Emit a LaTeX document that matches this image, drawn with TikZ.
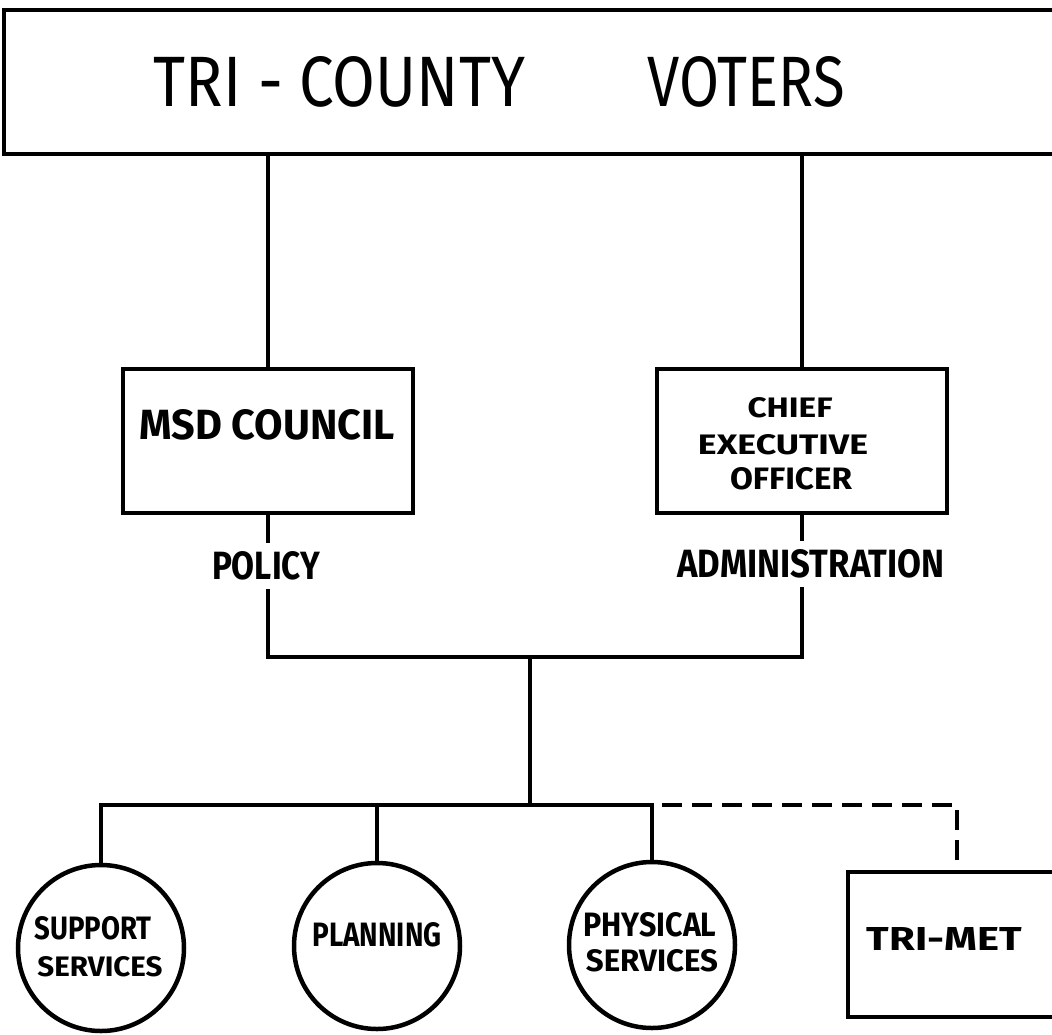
\documentclass[tikz,border=0pt]{standalone}
\usepackage{fontspec}
\setmainfont{Fira Sans}
\usepackage{graphicx}
\newcommand{\fitbox}[3]{\resizebox{#1pt}{#2pt}{#3}}
\begin{document}
\begin{tikzpicture}[x=1pt,y=-1pt,
  box/.style={draw,line width=4pt,rectangle,inner sep=0pt},
  unit/.style={draw,line width=4.5pt,circle,inner sep=0pt,minimum size=166pt},
  lbl/.style={inner sep=0pt,font=\bfseries},
  toplbl/.style={inner sep=0pt},
  gaplbl/.style={inner sep=0pt,font=\bfseries,outer ysep=9pt},
  wire/.style={line width=4.5pt},
  dashwire/.style={line width=4.5pt,dash pattern=on 20pt off 10pt,dash phase=20pt}]
\useasboundingbox (0,0) rectangle (1052,1034);
\clip (0,0) rectangle (1052,1034);

% boxes
\node[box,line width=3.5pt,minimum width=1058pt,minimum height=144pt] (voters) at (533,82) {};
\node[toplbl] (tricounty) at (339.5,82) {\fitbox{371}{50}{TRI - COUNTY}};
\node[toplbl] (voterstext) at (746.5,82) {\fitbox{197}{50}{VOTERS}};

\node[box,minimum width=290pt,minimum height=144pt] (msd) at (268,441) {};
\node[lbl] (msdtext) at (267,425) {\fitbox{255}{30}{MSD COUNCIL}};

\node[box,minimum width=290pt,minimum height=144pt] (ceo) at (802,441) {};
\node[lbl] (chief) at (790,408) {\fitbox{85}{20}{CHIEF}};
\node[lbl] (exec) at (783,445) {\fitbox{170}{20}{EXECUTIVE}};
\node[lbl] (officer) at (791,479) {\fitbox{122}{22}{OFFICER}};

\node[gaplbl] (policy) at (266,566) {\fitbox{108}{28}{POLICY}};
\node[gaplbl] (admin) at (811,564) {\fitbox{267}{28}{ADMINISTRATION}};

% units
\node[unit] (support) at (101,948) {};
\node[lbl] (supporttext) at (93,928) {\fitbox{117}{23}{SUPPORT}};
\node[lbl] (supportserv) at (100,967) {\fitbox{125}{20}{SERVICES}};

\node[unit] (planning) at (377,946) {};
\node[lbl] (planningtext) at (377,935) {\fitbox{129}{24}{PLANNING}};

\node[unit] (physical) at (652,945) {};
\node[lbl] (physicaltext) at (650,925) {\fitbox{133}{24}{PHYSICAL}};
\node[lbl] (physicalserv) at (652,961) {\fitbox{132}{22}{SERVICES}};

\node[box,minimum width=218pt,minimum height=145pt] (trimet) at (957,944.5) {};
\node[lbl] (trimettext) at (944.5,938.5) {\fitbox{155}{23}{TRI-MET}};

% junctions
\coordinate (j1) at (530,657);
\coordinate (j2) at (530,805);
\coordinate (tcorner) at (957,805);

% connectors
\draw[wire] (msd.north |- voters.south) -- (msd.north);
\draw[wire] (ceo.north |- voters.south) -- (ceo.north);
\draw[wire] (msd.south) -- (msd.south |- policy.north);
\draw[wire] (ceo.south) -- (ceo.south |- admin.north);
\draw[wire] (msd.south |- policy.south) |- (j1) -| (ceo.south |- admin.south);
\draw[wire] (j1) -- (j2);
\draw[wire] (support.north) |- (physical.north |- j2) -- (physical.north);
\draw[wire] (planning.north |- j2) -- (planning.north);
\draw[dashwire] (physical.north |- j2) -- (tcorner) -- (trimet.north);
\end{tikzpicture}
\end{document}
